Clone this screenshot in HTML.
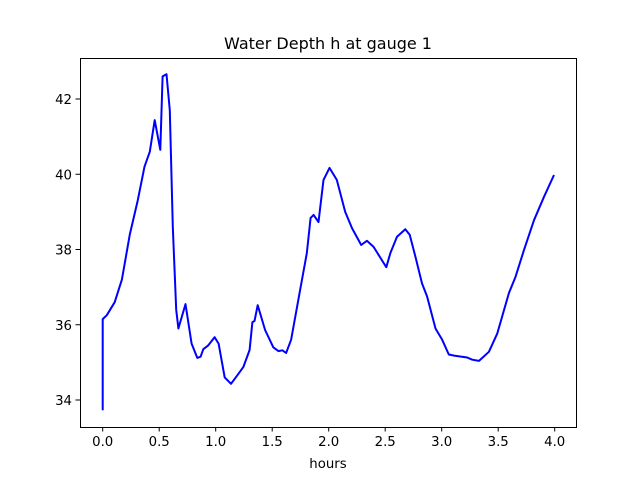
<!DOCTYPE html>
<html><head><meta charset="utf-8"><style>
body{margin:0;background:#fff}
svg{display:block;font-family:"DejaVu Sans","Liberation Sans",sans-serif}
</style></head><body>
<svg width="640" height="480" viewBox="0 0 640 480">
<rect width="640" height="480" fill="#fff"/>
<text x="328" y="49" text-anchor="middle" font-size="16">Water Depth h at gauge 1</text>
<g id="xt"></g>
<g id="yt"></g>
<polyline id="line" fill="none" stroke="#0000ff" stroke-width="2" stroke-linejoin="round"/>
<rect x="80.5" y="58.5" width="496" height="369" fill="none" stroke="#000" stroke-width="1"/>
<text x="328" y="468" text-anchor="middle" font-size="13.3">hours</text>
</svg>
<script>
const times=[0,0,0.035,0.106,0.17,0.24,0.31,0.37,0.417,0.46,0.51,0.53,0.565,0.594,0.62,0.65,0.67,0.733,0.787,0.837,0.866,0.89,0.934,0.99,1.026,1.08,1.135,1.185,1.245,1.3,1.325,1.343,1.372,1.437,1.51,1.555,1.59,1.623,1.667,1.747,1.806,1.84,1.866,1.91,1.954,2.007,2.072,2.146,2.206,2.288,2.338,2.397,2.51,2.545,2.604,2.678,2.717,2.767,2.826,2.871,2.945,3.004,3.063,3.11,3.226,3.27,3.33,3.418,3.492,3.595,3.654,3.728,3.817,3.905,3.994];
const depths=[33.73,36.15,36.25,36.6,37.2,38.4,39.3,40.2,40.6,41.44,40.65,42.6,42.66,41.7,38.6,36.4,35.9,36.55,35.5,35.12,35.15,35.35,35.45,35.67,35.5,34.6,34.43,34.63,34.88,35.33,36.07,36.1,36.52,35.86,35.4,35.3,35.32,35.25,35.6,36.92,37.9,38.84,38.92,38.73,39.85,40.17,39.85,39.0,38.57,38.12,38.23,38.07,37.53,37.9,38.34,38.54,38.39,37.81,37.1,36.75,35.9,35.6,35.21,35.18,35.13,35.07,35.04,35.28,35.77,36.84,37.28,37.99,38.78,39.4,39.98];
const xTicks=[0.0,0.5,1.0,1.5,2.0,2.5,3.0,3.5,4.0];
const yTicks=[34,36,38,40,42];
const NS='http://www.w3.org/2000/svg';
function X(t){return 102.7+t*113;}
function Y(v){return 400-(v-34)*37.625;}
const line=document.getElementById('line');
line.setAttribute('points',times.map((t,i)=>X(t).toFixed(1)+','+Y(depths[i]).toFixed(1)).join(' '));
const xt=document.getElementById('xt'),yt=document.getElementById('yt');
xTicks.forEach(t=>{
  const l=document.createElementNS(NS,'line');
  
  
  l.setAttribute('x1',X(t));l.setAttribute('x2',X(t));l.setAttribute('y1',427);l.setAttribute('y2',431.5);l.setAttribute('stroke','#000');
  xt.appendChild(l);
  const s=document.createElementNS(NS,'text');
  
  
  s.setAttribute('x',X(t));s.setAttribute('y',446);s.setAttribute('text-anchor','middle');s.setAttribute('font-size','13.3');
  s.textContent=t.toFixed(1);xt.appendChild(s);
});
yTicks.forEach(v=>{
  const l=document.createElementNS(NS,'line');
  
  
  l.setAttribute('x1',75.5);l.setAttribute('x2',80);l.setAttribute('y1',Y(v));l.setAttribute('y2',Y(v));l.setAttribute('stroke','#000');
  yt.appendChild(l);
  const s=document.createElementNS(NS,'text');
  
  
  s.setAttribute('x',72);s.setAttribute('y',Y(v)+5);s.setAttribute('text-anchor','end');s.setAttribute('font-size','13.3');
  s.textContent=v;yt.appendChild(s);
});
</script>
</body></html>
